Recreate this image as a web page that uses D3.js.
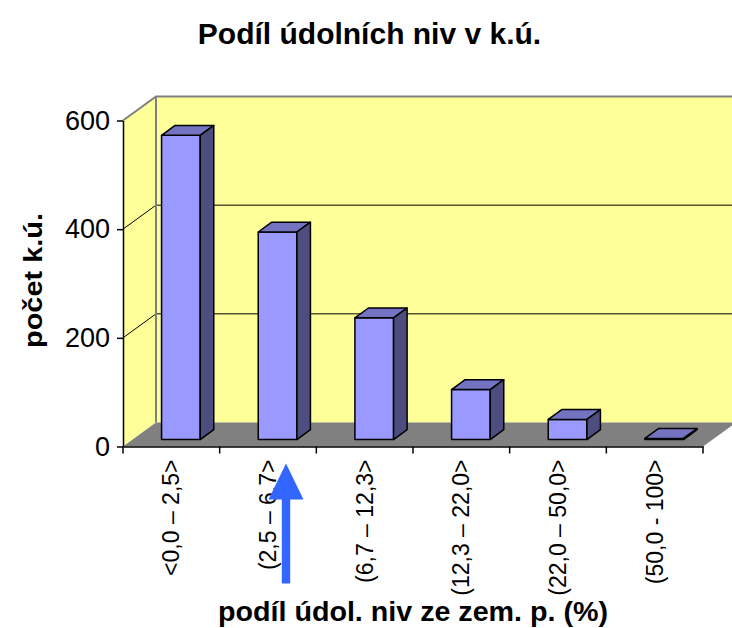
<!DOCTYPE html>
<html>
<head>
<meta charset="utf-8">
<script src="https://cdn.jsdelivr.net/npm/d3@7"></script>
<style>
  body { margin: 0; background: #fff; }
  svg { display: block; font-family: "Liberation Sans", Arial, sans-serif; }
</style>
</head>
<body>
<svg></svg>
<script>
// data
var categories = ["<0,0 – 2,5>", "(2,5 – 6,7>", "(6,7 – 12,3>", "(12,3 – 22,0>", "(22,0 – 50,0>", "(50,0 - 100>"];
var counts = [560, 382, 224, 92, 37, 2];
var yTicks = [0, 200, 400, 600];
var gridValues = [200, 400];

var width = 732, height = 628;

var svg = d3.select("svg")
  .attr("width", width)
  .attr("height", height);

var x = d3.scaleBand()
  .domain(categories)
  .range([123, 703])
  .paddingInner(0.6)
  .paddingOuter(0.3);

var y = d3.scaleLinear()
  .domain([0, 600])
  .range([446.5, 120.5]);

// 3d depth offset of the whole plot and where the bars sit in it
var depth = {dx: 33, dy: -24};
var z0 = 0.29, z1 = 0.70;
var x0 = x.range()[0], x1 = x.range()[1];

function pt(px, py, f) {
  return [px + depth.dx * f, py + depth.dy * f];
}
function poly(pts) {
  return "M" + pts.map(function(p) { return p[0] + "," + p[1]; }).join("L") + "Z";
}

var yMax = y(600), yZero = y(0);

// side wall
svg.append("path")
  .attr("d", poly([[x0, yZero], [x0, yMax], pt(x0, yMax, 1), pt(x0, yZero, 1)]))
  .attr("fill", "#ffff99");

// back wall
svg.append("path")
  .attr("d", poly([pt(x0, yMax, 1), pt(x1, yMax, 1), pt(x1, yZero, 1), pt(x0, yZero, 1)]))
  .attr("fill", "#ffff99");

// gridlines on both walls
svg.selectAll("path.grid")
  .data(gridValues)
  .enter()
  .append("path")
  .attr("class", "grid")
  .attr("d", function(v) {
    var a = pt(x0, y(v), 1), b = pt(x1, y(v), 1);
    return "M" + x0 + "," + y(v) + "L" + a[0] + "," + a[1] + "L" + b[0] + "," + b[1];
  })
  .attr("fill", "none")
  .attr("stroke", "#000")
  .attr("stroke-width", 1);

// floor
svg.append("path")
  .attr("d", poly([[x0, yZero], [x1, yZero], pt(x1, yZero, 1), pt(x0, yZero, 1)]))
  .attr("fill", "#808080");

// wall borders
var tl = pt(x0, yMax, 1), tr = pt(x1, yMax, 1), bl = pt(x0, yZero, 1);
svg.append("path")
  .attr("d", "M" + x0 + "," + yMax + "L" + tl[0] + "," + tl[1] + "L" + tr[0] + "," + tr[1]
    + "M" + tl[0] + "," + tl[1] + "L" + bl[0] + "," + bl[1])
  .attr("fill", "none")
  .attr("stroke", "#808080")
  .attr("stroke-width", 2);

// bars
var bars = svg.selectAll("g.bar")
  .data(counts)
  .enter()
  .append("g")
  .attr("class", "bar")
  .attr("stroke", "#000")
  .attr("stroke-width", 1.5)
  .attr("stroke-linejoin", "round");

function barX(d, i) { return x(categories[i]); }

bars.append("path")
  .attr("d", function(d, i) {
    var l = barX(d, i), r = l + x.bandwidth(), t = y(d), b = y(0);
    return poly([pt(l, t, z0), pt(r, t, z0), pt(r, b, z0), pt(l, b, z0)]);
  })
  .attr("fill", "#9999ff");

bars.append("path")
  .attr("d", function(d, i) {
    var l = barX(d, i), r = l + x.bandwidth(), t = y(d);
    return poly([pt(l, t, z0), pt(r, t, z0), pt(r, t, z1), pt(l, t, z1)]);
  })
  .attr("fill", "#7373c2");

bars.append("path")
  .attr("d", function(d, i) {
    var r = barX(d, i) + x.bandwidth(), t = y(d), b = y(0);
    return poly([pt(r, t, z0), pt(r, b, z0), pt(r, b, z1), pt(r, t, z1)]);
  })
  .attr("fill", "#4d4d80");

// y axis
var yAxis = d3.axisLeft(y)
  .tickValues(yTicks)
  .tickSize(6)
  .tickSizeOuter(0)
  .tickPadding(7);

var gy = svg.append("g")
  .attr("transform", "translate(" + x0 + ",0)")
  .call(yAxis);
gy.select(".domain").attr("stroke", "#000").attr("stroke-width", 1.5);
gy.selectAll("line").attr("stroke", "#000").attr("stroke-width", 1.5);
gy.selectAll("text")
  .attr("font-size", 27)
  .attr("font-family", "Liberation Sans, Arial, sans-serif")
  .attr("fill", "#000");

// x axis: line + ticks at category boundaries
var xAxis = d3.axisBottom(x).tickSize(0).tickSizeOuter(0);
var gx = svg.append("g")
  .attr("transform", "translate(0," + yZero + ")")
  .call(xAxis);
gx.select(".domain").attr("stroke", "#000").attr("stroke-width", 1.5);
gx.selectAll("text")
  .attr("font-size", 23)
  .attr("font-family", "Liberation Sans, Arial, sans-serif")
  .attr("fill", "#000")
  .attr("transform", "rotate(-90)")
  .attr("text-anchor", "end")
  .attr("x", -13)
  .attr("y", 0)
  .attr("dy", "0.35em");

var bounds = categories.map(function(c) { return x(c) - x.step() * x.paddingOuter(); });
bounds.push(x1);
svg.selectAll("line.xtick")
  .data(bounds)
  .enter()
  .append("line")
  .attr("class", "xtick")
  .attr("x1", function(d) { return d; })
  .attr("x2", function(d) { return d; })
  .attr("y1", yZero)
  .attr("y2", yZero + 7)
  .attr("stroke", "#000")
  .attr("stroke-width", 1.5);

// arrow pointing at the second category
var ax = x(categories[1]) + x.bandwidth() / 2 + 18;
var arrow = [[ax, yZero + 17], [ax + 17.5, yZero + 53], [ax + 4.2, yZero + 53], [ax + 4.2, yZero + 137],
  [ax - 4.2, yZero + 137], [ax - 4.2, yZero + 53], [ax - 17.5, yZero + 53]];
svg.append("path")
  .attr("d", poly(arrow))
  .attr("fill", "#3366ff");

// titles
svg.append("text")
  .attr("x", 369.5)
  .attr("y", 44)
  .attr("text-anchor", "middle")
  .attr("font-size", 30)
  .attr("font-weight", "bold")
  .text("Podíl údolních niv v k.ú.");

svg.append("text")
  .attr("transform", "translate(42,280.5) rotate(-90)")
  .attr("text-anchor", "middle")
  .attr("font-size", 26)
  .attr("font-weight", "bold")
  .attr("textLength", 135)
  .attr("lengthAdjust", "spacingAndGlyphs")
  .text("počet k.ú.");

svg.append("text")
  .attr("x", 413)
  .attr("y", 621)
  .attr("text-anchor", "middle")
  .attr("font-size", 27)
  .attr("font-weight", "bold")
  .attr("textLength", 390)
  .attr("lengthAdjust", "spacingAndGlyphs")
  .text("podíl údol. niv ze zem. p. (%)");
</script>
</body>
</html>
